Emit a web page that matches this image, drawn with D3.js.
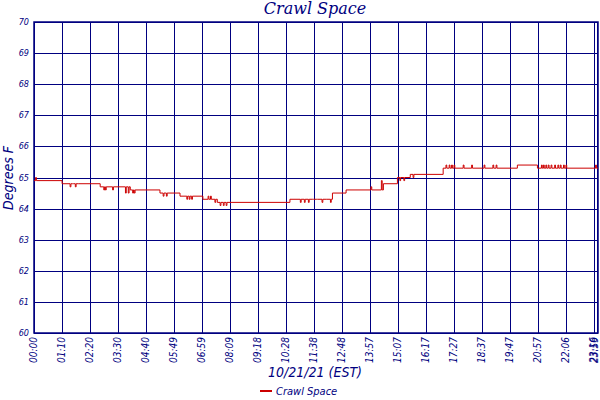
<!DOCTYPE html>
<html><head><meta charset="utf-8">
<script src="https://cdn.jsdelivr.net/npm/d3@7"></script>
<style>body{margin:0;background:#fff}text{font-family:"DejaVu Sans Condensed","DejaVu Sans",sans-serif;font-style:italic;fill:#000080}</style>
</head><body><svg id="c" width="600" height="400"></svg>
<script>
// x tick labels (HH:MM)
const tickLabels = ["00:00","01:10","02:20","03:30","04:40","05:49","06:59","08:09","09:18","10:28","11:38","12:48","13:57","15:07","16:17","17:27","18:37","19:47","20:57","22:06","23:16","23:59"];
const yTicks = [60,61,62,63,64,65,66,67,68,69,70];
// step changes: minute of day, degrees F
const stepTimes = [0,70,165,240,314,364,421,457,638,744,778,871,906,938,1020,1205,1255,1439];
const stepTemps = [64.9,64.8,64.7,64.6,64.5,64.4,64.3,64.2,64.3,64.5,64.6,64.8,65.0,65.1,65.3,65.4,65.3,65.3];
// short one-reading blips
const blipTimes = [4,90,96,103,110,174,178,196,228,235,246,250,322,330,381,387,393,434,440,451,464,472,479,664,674,684,695,705,718,728,739,840,866,912,922,945,1027,1035,1041,1047,1070,1091,1122,1144,1152,1265,1270,1276,1282,1289,1298,1306,1312,1320,1326,1400];
const blipTemps = [65.0,64.7,64.8,64.7,64.8,64.6,64.6,64.6,64.5,64.5,64.5,64.5,64.4,64.4,64.3,64.3,64.3,64.4,64.4,64.2,64.1,64.1,64.1,64.2,64.2,64.2,64.3,64.3,64.2,64.3,64.2,64.7,64.9,64.9,64.9,65.0,65.4,65.4,65.4,65.4,65.4,65.4,65.4,65.4,65.4,65.4,65.4,65.4,65.4,65.4,65.4,65.4,65.4,65.4,65.4,65.4];

const svg = d3.select("#c");
const L = 34, R = 598, T = 22, B = 333;
const x = d3.scaleLinear().domain([0,1406]).range([L,R]);
const y = d3.scaleLinear().domain([60,70]).range([B,T]);
const toMin = s => +s.slice(0,2)*60 + +s.slice(3);
const xt = s => Math.min(x(toMin(s)), R - 1);

// build series from steps and blips
let all = [];
stepTimes.forEach((t,i) => all.push({t:t, kind:"s", i:i}));
blipTimes.forEach((t,i) => all.push({t:t, kind:"b", i:i}));
all.sort((a,b) => a.t-b.t || (a.kind==="s" ? -1 : 1));
let series = [];
let cur = stepTemps[0];
all.forEach(e => {
    if (e.kind === "s") {
        series.push([e.t, cur]); cur = stepTemps[e.i]; series.push([e.t, cur]);
    } else {
        series.push([e.t, cur], [e.t, blipTemps[e.i]], [e.t+2, blipTemps[e.i]], [e.t+2, cur]);
    }
});

const navy = "#000080";
svg.append("clipPath").attr("id", "pc").append("rect")
    .attr("x", L).attr("y", T).attr("width", R-L).attr("height", B-T);
// grid
svg.append("g").attr("shape-rendering", "crispEdges").selectAll("line").data(yTicks).enter().append("line")
    .attr("x1", L).attr("x2", R).attr("y1", d => Math.round(y(d))+0.5).attr("y2", d => Math.round(y(d))+0.5)
    .attr("stroke", navy).attr("stroke-width", 1);
svg.append("g").attr("shape-rendering", "crispEdges").selectAll("line").data(tickLabels).enter().append("line")
    .attr("y1", T).attr("y2", B).attr("x1", d => Math.round(xt(d))+0.5).attr("x2", d => Math.round(xt(d))+0.5)
    .attr("stroke", navy).attr("stroke-width", 1);
svg.append("rect").attr("x", L).attr("y", T).attr("width", R-L).attr("height", B-T)
    .attr("fill", "none").attr("stroke", navy).attr("stroke-width", 1.5);

// line
svg.append("path").datum(series).attr("clip-path", "url(#pc)")
    .attr("d", d3.line().x(d => x(d[0])).y(d => y(d[1])))
    .attr("fill", "none").attr("stroke", "#cc0000").attr("stroke-width", 1);

// y labels
svg.append("g").selectAll("text").data(yTicks).enter().append("text")
    .attr("x", 29).attr("y", d => y(d) + 3).attr("text-anchor", "end")
    .attr("font-size", 9).text(d => d);
// x labels
svg.append("g").selectAll("text").data(tickLabels).enter().append("text")
    .attr("transform", d => `translate(${Math.min(xt(d) + 3, 598)},337) rotate(-90)`)
    .attr("text-anchor", "end").attr("font-size", 10).text(d => d);

svg.append("text").attr("x", 315).attr("y", 14).attr("text-anchor", "middle")
    .attr("font-size", 16).style("font-family", "'DejaVu Serif',serif").text("Crawl Space");
svg.append("text").attr("transform", "translate(13,178) rotate(-90)").attr("text-anchor", "middle")
    .attr("font-size", 14).text("Degrees F");
svg.append("text").attr("x", 315).attr("y", 377).attr("text-anchor", "middle")
    .attr("font-size", 14).text("10/21/21 (EST)");
svg.append("line").attr("x1", 260).attr("x2", 272).attr("y1", 391).attr("y2", 391)
    .attr("stroke", "#cc0000").attr("stroke-width", 2);
svg.append("text").attr("x", 276).attr("y", 395).attr("font-size", 11).text("Crawl Space");
</script></body></html>
